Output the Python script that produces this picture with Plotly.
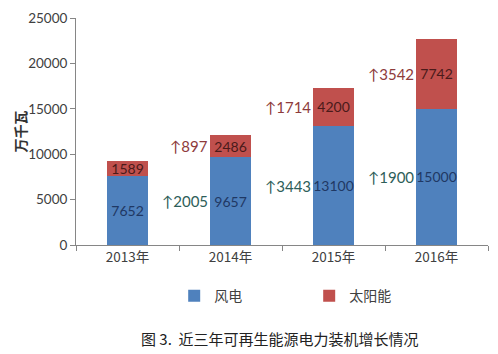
import plotly.graph_objects as go

years = ["2013年", "2014年", "2015年", "2016年"]
wind = [7652, 9657, 13100, 15000]
solar = [1589, 2486, 4200, 7742]
y_ticks = [0, 5000, 10000, 15000, 20000, 25000]

BLUE = "#4F81BD"
RED = "#C0504D"
FONT = "Lato, 'Noto Sans CJK SC', sans-serif"
CJK = "'Noto Sans CJK SC', sans-serif"

fig = go.Figure()
fig.add_trace(go.Bar(
    x=years, y=wind, name="风电", marker=dict(color=BLUE, line=dict(width=0)),
    text=[str(v) for v in wind], textposition="inside", insidetextanchor="middle",
    textangle=0, constraintext="none",
    textfont=dict(family=FONT, size=14, color="#1F3864"), width=0.4,
))
fig.add_trace(go.Bar(
    x=years, y=solar, name="太阳能", marker=dict(color=RED, line=dict(width=0)),
    text=[str(v) for v in solar], textposition="inside", insidetextanchor="middle",
    textangle=0, constraintext="none",
    textfont=dict(family=FONT, size=14, color="#4A1A1A"), width=0.4,
))

annotations = []
for i in range(1, len(years)):
    dw = wind[i] - wind[i - 1]
    ds = solar[i] - solar[i - 1]
    annotations.append(dict(
        x=years[i], y=wind[i] / 2, xref="x", yref="y", text="↑" + str(dw),
        showarrow=False, xanchor="right", xshift=-21,
        font=dict(family=FONT, size=15, color="#2E5E59"),
    ))
    annotations.append(dict(
        x=years[i], y=wind[i] + solar[i] / 2, xref="x", yref="y", text="↑" + str(ds),
        showarrow=False, xanchor="right", xshift=-21,
        font=dict(family=FONT, size=15, color="#8E3B3B"),
    ))

annotations.append(dict(
    x=-0.136, y=0.5, xref="paper", yref="paper", text="<b>万千瓦</b>",
    textangle=-90, showarrow=False, xanchor="center", yanchor="middle",
    font=dict(family=CJK, size=14, color="#333333"),
))
annotations.append(dict(
    x=0.495, y=-0.411, xref="paper", yref="paper",
    text="图 3.  近三年可再生能源电力装机增长情况",
    showarrow=False, xanchor="center", yanchor="middle",
    font=dict(family=CJK, size=15, color="#222222"),
))

fig.update_layout(
    barmode="stack",
    width=498, height=354,
    margin=dict(l=76, r=10, t=14, b=109),
    paper_bgcolor="white", plot_bgcolor="white",
    showlegend=True,
    legend=dict(orientation="h", x=0.566, y=-0.225, xanchor="center", yanchor="middle",
                font=dict(family=CJK, size=14, color="#404040"),
                entrywidth=90, entrywidthmode="pixels", itemwidth=30,
                traceorder="normal"),
    annotations=annotations,
)
fig.update_xaxes(
    range=[-0.5, 3.5], showline=True, linecolor="#868686", linewidth=1,
    ticks="outside", ticklen=5, tickcolor="#868686", tickson="boundaries",
    tickfont=dict(family=CJK, size=13.5, color="#404040"), showgrid=False,
)
fig.update_yaxes(
    range=[0, 25000], tickvals=y_ticks, ticktext=[str(v) for v in y_ticks],
    showline=True, linecolor="#868686", linewidth=1,
    ticks="outside", ticklen=5, tickcolor="#868686",
    tickfont=dict(family=FONT, size=13.5, color="#404040"), showgrid=False, zeroline=False,
)

fig.write_html("out.html")
